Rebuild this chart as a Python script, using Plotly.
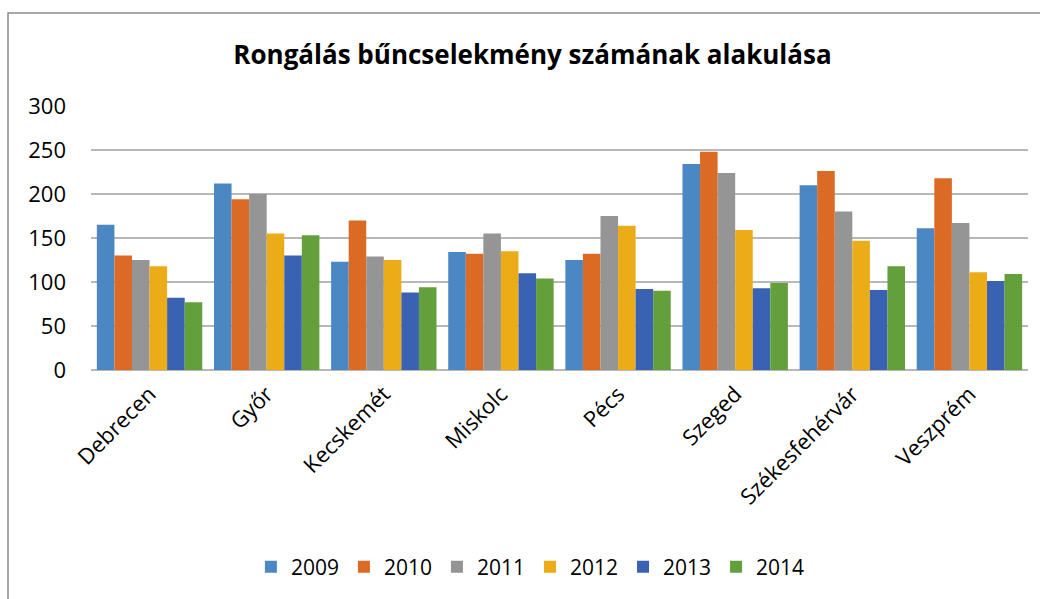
import plotly.graph_objects as go

cities = ["Debrecen", "Győr", "Kecskemét", "Miskolc", "Pécs", "Szeged", "Székesfehérvár", "Veszprém"]
years = ["2009", "2010", "2011", "2012", "2013", "2014"]

v2009 = [165, 212, 123, 134, 125, 234, 210, 161]
v2010 = [130, 194, 170, 132, 132, 248, 226, 218]
v2011 = [125, 200, 129, 155, 175, 224, 180, 167]
v2012 = [118, 155, 125, 135, 164, 159, 147, 111]
v2013 = [82, 130, 88, 110, 92, 93, 91, 101]
v2014 = [77, 153, 94, 104, 90, 99, 118, 109]

series = [v2009, v2010, v2011, v2012, v2013, v2014]
colors = ["#4A87C3", "#DB6A24", "#959595", "#EBAC18", "#3A62B2", "#63A03C"]

W, H = 1040, 599
ml, mr, mt, mb = 91, 12, 106, 229

fig = go.Figure()
for name, vals, col in zip(years, series, colors):
    fig.add_trace(go.Bar(x=cities, y=vals, name=name, marker=dict(color=col, line=dict(width=0))))

pw = W - ml - mr
ph = H - mt - mb
fig.update_layout(
    width=W, height=H,
    margin=dict(l=ml, r=mr, t=mt, b=mb),
    paper_bgcolor="white", plot_bgcolor="white",
    barmode="group", bargap=0.1, bargroupgap=0,
    font=dict(family="Open Sans", color="black"),
    title=dict(text="<b>Rongálás bűncselekmény számának alakulása</b>",
               x=0.512, xanchor="center", y=1 - 55 / H, yanchor="middle",
               yref="container", font=dict(size=26, color="black")),
    xaxis=dict(tickangle=-45, tickfont=dict(size=22), showgrid=False, showline=False,
               ticks="", ticklabelstandoff=6),
    yaxis=dict(range=[0, 300], dtick=50, tickfont=dict(size=22), gridcolor="#B8B8B8",
               gridwidth=1.5, zeroline=True, zerolinecolor="#B8B8B8", zerolinewidth=1.5,
               showline=False, ticks="", ticklabelstandoff=24),
    legend=dict(orientation="h", x=0.51, xanchor="center", xref="container",
                y=1 - 567 / H, yanchor="middle", yref="container",
                font=dict(size=21), itemwidth=30, traceorder="normal"),
    shapes=[dict(type="path", xref="paper", yref="paper",
                 path=f"M {(8 - ml) / pw},{-(H - mt - ph) / ph - 0.1} L {(8 - ml) / pw},{1 + (mt - 13) / ph} L {1 + (mr + 20) / pw},{1 + (mt - 13) / ph}",
                 line=dict(color="#8C8C8C", width=1.5))],
)

fig.write_html("out.html", config={"displayModeBar": False},
               post_script="document.body.style.margin='0';")
